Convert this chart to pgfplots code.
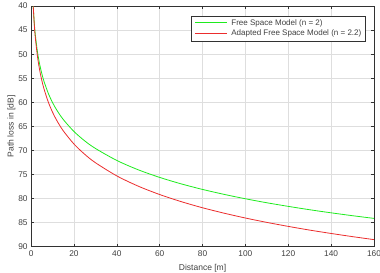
\documentclass[border=0pt]{standalone}
\usepackage{pgfplots}
\pgfplotsset{compat=1.18}
\usepackage{fontspec}
\setmainfont{Liberation Sans}
\definecolor{txtgray}{RGB}{64,64,64}
\definecolor{axgray}{RGB}{50,50,50}
\definecolor{gridgray}{RGB}{222,222,222}
\definecolor{lgreen}{RGB}{30,235,30}
\definecolor{lred}{RGB}{235,45,45}
\pgfplotsset{legend image code/.code={}}
\begin{document}
\begin{tikzpicture}[x=1pt,y=1pt]
\begin{axis}[
  name=ax,
  scale only axis,
  width=342pt, height=240pt,
  xmin=0, xmax=160, ymin=40, ymax=90,
  y dir=reverse,
  xtick={0,20,...,160},
  ytick={40,45,...,90},
  grid=major,
  major grid style={gridgray, line width=0.5pt},
  axis line style={axgray, line width=0.6pt},
  tick style={axgray, line width=0.5pt},
  tick align=inside,
  major tick length=3pt,
  xticklabel style={font=\fontsize{8.3}{9}\selectfont, text=txtgray},
  yticklabel style={font=\fontsize{8.3}{9}\selectfont, text=txtgray},
  /pgf/number format/assume math mode=true,
  xlabel={Distance [m]},
  ylabel={Path loss in [dB]},
  label style={font=\fontsize{8.5}{10}\selectfont, text=txtgray},
  xlabel style={yshift=-1pt},
  ylabel style={yshift=-4pt},
  legend style={name=leg, at={(0.974,0.958)}, anchor=north east, font=\fontsize{8}{9}\selectfont, draw=none, fill=white, inner sep=1.5pt, row sep=-1pt, column sep=0pt, cells={anchor=west}, /tikz/every even column/.append style={text=txtgray}, /tikz/every odd column/.append style={inner sep=0pt}},
  clip=true,
]
\addplot[color=lgreen, line width=0.8pt, smooth] coordinates {
(1,40.05) (1.5,43.57) (2,46.07) (3,49.59) (4,52.09) (5,54.03) (6,55.61) (8,58.11) (10,60.05) (12,61.63) (15,63.57) (20,66.07) (25,68.01) (30,69.59) (40,72.09) (50,74.03) (60,75.61) (70,76.95) (80,78.11) (90,79.13) (100,80.05) (110,80.88) (120,81.63) (130,82.33) (140,82.97) (150,83.57) (160,84.13)
};
\addlegendentry{\textcolor{lgreen}{\rule[2.6pt]{32pt}{0.8pt}}\hspace{4pt}Free Space Model (n = 2)}
\addplot[color=lred, line width=0.8pt, smooth] coordinates {
(1,40.05) (1.5,43.92) (2,46.67) (3,50.55) (4,53.30) (5,55.43) (6,57.17) (8,59.92) (10,62.05) (12,63.79) (15,65.92) (20,68.67) (25,70.80) (30,72.55) (40,75.30) (50,77.43) (60,79.17) (70,80.64) (80,81.92) (90,83.04) (100,84.05) (110,84.96) (120,85.79) (130,86.56) (140,87.26) (150,87.92) (160,88.54)
};
\addlegendentry{\textcolor{lred}{\rule[2.6pt]{32pt}{0.8pt}}\hspace{4pt}Adapted Free Space Model (n = 2.2)}
\end{axis}
\draw[axgray, line width=0.5pt] (leg.south west) rectangle (leg.north east);
\pgfresetboundingbox
\path ([xshift=-31pt,yshift=-26pt]ax.south west) rectangle ([xshift=6pt,yshift=6pt]ax.north east);
\end{tikzpicture}
\end{document}
